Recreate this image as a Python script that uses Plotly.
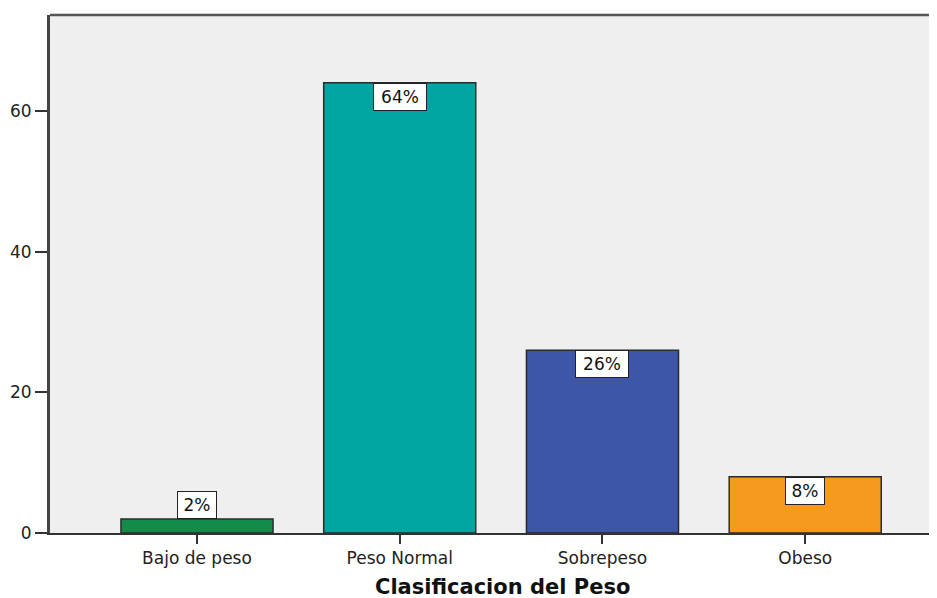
import plotly.graph_objects as go

categories = ["Bajo de peso", "Peso Normal", "Sobrepeso", "Obeso"]
values = [2, 64, 26, 8]
labels = ["2%", "64%", "26%", "8%"]
colors = ["#128C48", "#00A5A1", "#3D56A7", "#F7981F"]
y_ticks = [0, 20, 40, 60]

fig = go.Figure()
fig.add_trace(go.Bar(
    x=list(range(len(categories))), y=values,
    width=0.75,
    marker=dict(color=colors, line=dict(color="#2b2b2b", width=1.5)),
    hoverinfo="skip",
))

for i, (v, lab) in enumerate(zip(values, labels)):
    inside = v > 5
    fig.add_annotation(
        x=i, y=v, xref="x", yref="y", text=lab, showarrow=False,
        yanchor="top" if inside else "bottom",
        font=dict(family="DejaVu Sans", size=17, color="#111"),
        bgcolor="white", bordercolor="#222", borderwidth=1, borderpad=3,
        width=14 * len(lab) + 4,
    )

fig.add_annotation(
    x=0.51, y=-0.104, xref="paper", yref="paper", text="<b>Clasificacion del Peso</b>",
    showarrow=False, xanchor="center", yanchor="middle",
    font=dict(family="DejaVu Sans", size=21, color="#111"),
)

# top border
fig.add_shape(type="line", xref="paper", yref="paper", x0=0, x1=1, y0=1, y1=1,
              line=dict(color="#555", width=2.5))

fig.update_layout(
    width=929, height=590,
    margin=dict(l=42, r=0, t=7, b=65),
    paper_bgcolor="white", plot_bgcolor="#EFEFEF",
    showlegend=False,
    xaxis=dict(
        range=[-0.725, 3.65], tickmode="array",
        tickvals=list(range(len(categories))), ticktext=categories,
        showgrid=False, zeroline=False,
        showline=True, linecolor="#333", linewidth=1.5,
        ticks="outside", ticklen=9, tickwidth=2, tickcolor="#333",
        tickfont=dict(family="DejaVu Sans", size=17, color="#222"),
    ),
    yaxis=dict(
        range=[0, 73.65], tickvals=y_ticks,
        showgrid=False, zeroline=False,
        showline=True, linecolor="#444", linewidth=3,
        ticks="outside", ticklen=12, tickwidth=1.5, tickcolor="#333",
        tickfont=dict(family="DejaVu Sans", size=17, color="#222"),
    ),
)

fig.write_html("out.html")
